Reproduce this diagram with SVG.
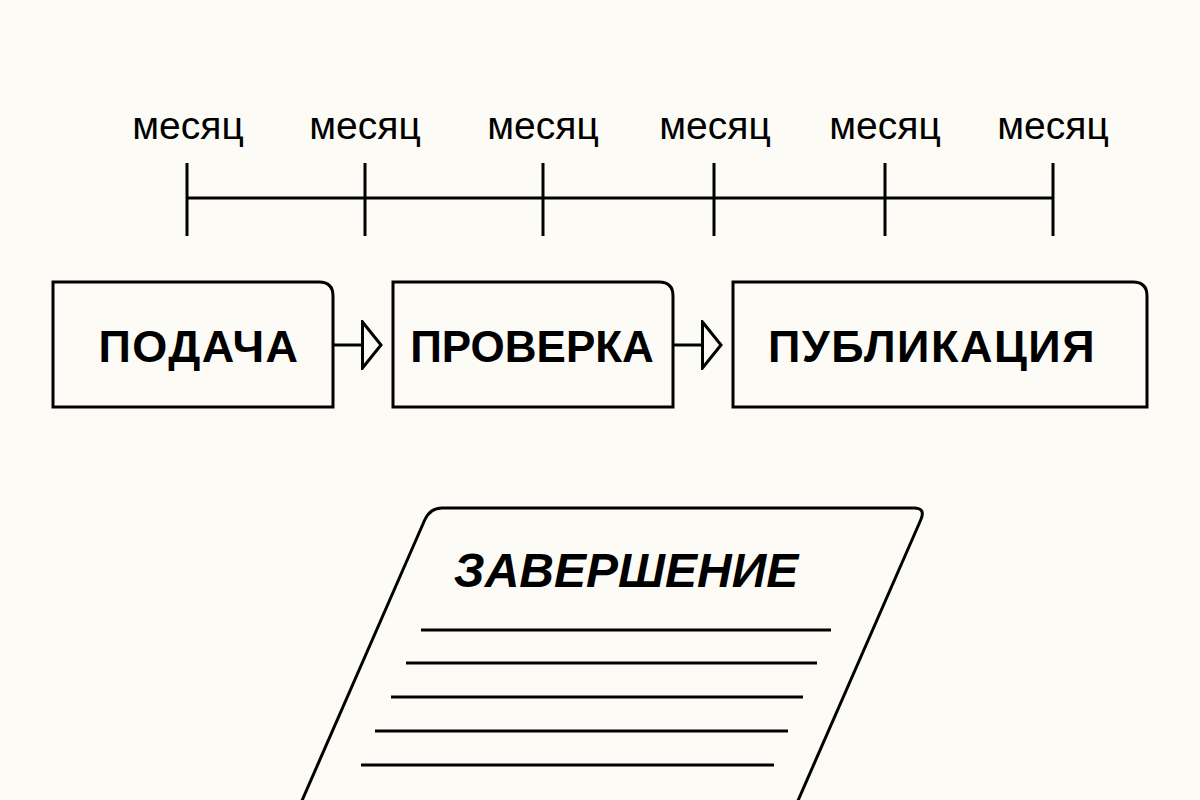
<svg xmlns="http://www.w3.org/2000/svg" width="1200" height="800" viewBox="0 0 1200 800">
  <style>
    .stroke { fill: none; stroke: #000; stroke-width: 3; }
    .box { fill: #fcfbf6; stroke: #000; stroke-width: 3; stroke-linejoin: miter; }
    .month { font-family: "Liberation Sans", Arial, sans-serif; font-size: 39px; fill: #000; text-anchor: middle; }
    .label { font-family: "Liberation Sans", Arial, sans-serif; font-size: 45px; font-weight: bold; letter-spacing: 1.5px; fill: #000; text-anchor: middle; }
    .label.tight { font-size: 44px; letter-spacing: 0; }
    .title { font-family: "Liberation Sans", Arial, sans-serif; font-size: 48px; font-weight: bold; font-style: italic; fill: #000; text-anchor: middle; }
  </style>
  <defs>
    <marker id="openTri" viewBox="0 0 22 50" refX="1" refY="25" markerWidth="22" markerHeight="50" markerUnits="userSpaceOnUse" orient="auto">
      <path d="M 1.5 2 L 20 25 L 1.5 48 Z" fill="#fcfbf6" stroke="#000" stroke-width="3" stroke-linejoin="miter"/>
    </marker>
  </defs>
  <rect x="0" y="0" width="1200" height="800" fill="#fcfbf6"/>

  <g id="timeline">
    <line class="stroke" x1="187" y1="198" x2="1053" y2="198"/>
    <line class="stroke" x1="187" y1="163" x2="187" y2="236"/>
    <line class="stroke" x1="365" y1="163" x2="365" y2="236"/>
    <line class="stroke" x1="543" y1="163" x2="543" y2="236"/>
    <line class="stroke" x1="714" y1="163" x2="714" y2="236"/>
    <line class="stroke" x1="885" y1="163" x2="885" y2="236"/>
    <line class="stroke" x1="1053" y1="163" x2="1053" y2="236"/>
    <text class="month" x="188" y="139">месяц</text>
    <text class="month" x="365" y="139">месяц</text>
    <text class="month" x="543" y="139">месяц</text>
    <text class="month" x="715" y="139">месяц</text>
    <text class="month" x="885" y="139">месяц</text>
    <text class="month" x="1053" y="139">месяц</text>
  </g>

  <g id="connectors">
    <line class="stroke" x1="333" y1="345" x2="362" y2="345" marker-end="url(#openTri)"/>
    <line class="stroke" x1="673" y1="345" x2="702" y2="345" marker-end="url(#openTri)"/>
  </g>

  <g id="node-podacha">
    <path class="box" d="M 53 282 L 319 282 Q 333 282 333 296 L 333 407 L 53 407 Z"/>
    <text class="label" x="199" y="362">ПОДАЧА</text>
  </g>
  <g id="node-proverka">
    <path class="box" d="M 393 282 L 659 282 Q 673 282 673 296 L 673 407 L 393 407 Z"/>
    <text class="label tight" x="532" y="362">ПРОВЕРКА</text>
  </g>
  <g id="node-publikatsiya">
    <path class="box" d="M 733 282 L 1133 282 Q 1147 282 1147 296 L 1147 407 L 733 407 Z"/>
    <text class="label" x="932" y="362">ПУБЛИКАЦИЯ</text>
  </g>

  <g id="node-zavershenie">
    <path class="stroke" d="M 297 812 L 424.7 520 Q 430 508 442 508 L 914 508 Q 926 508 920.7 520 L 793 812"/>
    <text class="title" x="626" y="587">ЗАВЕРШЕНИЕ</text>
    <line class="stroke" x1="421" y1="630" x2="831" y2="630"/>
    <line class="stroke" x1="406" y1="663" x2="817" y2="663"/>
    <line class="stroke" x1="391" y1="697" x2="803" y2="697"/>
    <line class="stroke" x1="375" y1="731" x2="788" y2="731"/>
    <line class="stroke" x1="361" y1="765" x2="774" y2="765"/>
  </g>
</svg>
